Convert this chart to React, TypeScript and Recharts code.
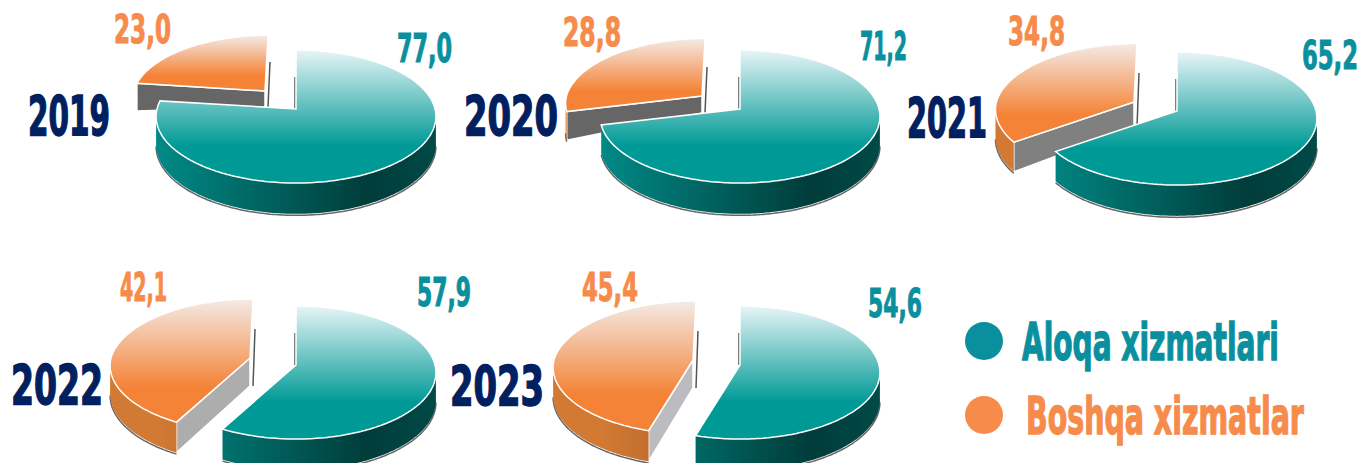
import { PieChart, Pie } from 'recharts';

// values
const YEARS = ['2019', '2020', '2021', '2022', '2023'];
const ALOQA = [77.0, 71.2, 65.2, 57.9, 54.6];
const BOSHQA = [23.0, 28.8, 34.8, 42.1, 45.4];
const LEGEND_NAMES = ['Aloqa xizmatlari', 'Boshqa xizmatlar'];

// layout of each pie: centre, how far the orange slice is pulled out, its size, depth of the cut face at the tip, grey of the cut face
const CENTERS = [[296, 109], [740, 109], [1177, 111], [296, 365], [740, 365]];
const EXPLODE = [[-31, -18], [-38, -13], [-43, -9], [-46, -7], [-47, -5]];
const ORANGE_SCALE = [0.945, 0.975, 0.99, 1, 1];
const TIP_DEPTH = [16, 17, 25, 28, 28];
const CUT_GREY = ['#666666', '#666666', '#808080', '#adadad', '#bcbcc0'];

// label boxes: x, width, baseline
const TEAL_LABELS = [[397, 55, 62], [860, 47, 60], [1302, 56, 69], [417, 54, 306], [868, 54, 317]];
const ORANGE_LABELS = [[114, 57, 43], [563, 58, 46], [1008, 57, 45], [120, 47, 301], [582, 56, 301]];
const YEAR_LABELS = [[28, 82, 135], [464, 94, 135], [907, 80, 137], [11, 92, 404], [450, 94, 405]];

const NAVY = '#012060';
const TEAL_TEXT = '#0a8f9f';
const ORANGE_TEXT = '#f78b4b';
const FONT = '"DejaVu Sans Condensed", "DejaVu Sans", sans-serif';
const RAD = Math.PI / 180;
const PERSP = 0.1127; // back of the disc is further away
const SQUASH = 0.4727;
const DEPTH = 28;
const SILHOUETTE = [96.5, 263.5];

const measureCtx = document.createElement('canvas').getContext('2d')!;

// heavy condensed look: the text is squeezed to the width it has in the picture
function CondText({ x, width, y, cap, fill, children }: any) {
    const fontSize = cap / 0.729;
    measureCtx.font = `700 ${fontSize}px ${FONT}`;
    const natural = measureCtx.measureText(String(children)).width;
    return (
        <text
            transform={`translate(${x} ${y}) scale(${width / natural} 1)`}
            fontFamily={FONT}
            fontWeight={700}
            fontSize={fontSize}
            fill={fill}
            stroke={fill}
            strokeWidth={cap / 28}
        >
            {children}
        </text>
    );
}

// one point on the tilted disc, theta clockwise from the top; lean pushes the back of the disc sideways
function project(cx: number, cy: number, r: number, theta: number, drop = false, lean = 0) {
    const u = Math.sin(theta * RAD);
    const v = Math.cos(theta * RAD);
    const d = 1 + PERSP * v;
    const px = cx + (r * u) / d + lean * Math.max(0, v);
    const py = cy - (r * SQUASH * v) / d;
    return drop ? [px, py + DEPTH * (1 - 0.1 * v)] : [px, py];
}

function arcPoints(cx: number, cy: number, r: number, from: number, to: number, drop = false, lean = 0) {
    const pts: number[][] = [];
    const steps = Math.max(2, Math.ceil(Math.abs(to - from)));
    for (let i = 0; i <= steps; i++) {
        pts.push(project(cx, cy, r, from + ((to - from) * i) / steps, drop, lean));
    }
    return pts;
}

const toPath = (pts: number[][], close = false) =>
    'M' + pts.map((p) => `${p[0].toFixed(1)},${p[1].toFixed(1)}`).join('L') + (close ? 'Z' : '');

const makeSector = (pieIndex: number) => (props: any) => {
    const isOrange = props.payload?.kind === 'boshqa' || props.kind === 'boshqa';
    const [dx, dy] = isOrange ? EXPLODE[pieIndex] : [0, 0];
    const cx = props.cx + dx;
    const cy = props.cy + dy;
    const r = props.outerRadius * (isOrange ? ORANGE_SCALE[pieIndex] : 1);
    const lean = isOrange ? 3 : 0;
    let from = 90 - props.startAngle;
    let to = 90 - props.endAngle;
    if (from < -0.001) {
        from += 360;
        to += 360;
    }
    const id = `${isOrange ? 'o' : 't'}${pieIndex}`;
    const rim = arcPoints(cx, cy, r, from, to, false, lean);
    const top = [[cx, cy], ...rim];

    // outer wall, only the part that faces the viewer
    const a = Math.max(from, SILHOUETTE[0]);
    const b = Math.min(to, SILHOUETTE[1]);
    const hasWall = b > a;
    const wallTop = hasWall ? arcPoints(cx, cy, r, a, b) : [];
    const wallBottom = hasWall ? arcPoints(cx, cy, r, a, b, true) : [];
    const wall = hasWall ? [...wallTop, ...[...wallBottom].reverse()] : [];
    const shadow = wallBottom.map((p) => [p[0], p[1] + 1.5]);

    const tipDepth = TIP_DEPTH[pieIndex];
    const cutRim = project(cx, cy, r, from, false, lean);
    const cutRimLow = project(cx, cy, r, from, true, lean);
    const topEnd = project(cx, cy, r, isOrange ? to : 0, false, lean);

    return (
        <g>
            <defs>
                <linearGradient id={`wall-${id}`} gradientUnits="userSpaceOnUse" x1={props.cx - 139} x2={props.cx + 139} y1={0} y2={0}>
                    {isOrange ? (
                        <>
                            <stop offset="0" stopColor="#d27a33" />
                            <stop offset="0.45" stopColor="#a85c28" />
                        </>
                    ) : (
                        <>
                            <stop offset="0" stopColor="#008a86" />
                            <stop offset="0.76" stopColor="#003c3a" />
                            <stop offset="1" stopColor="#004a48" />
                        </>
                    )}
                </linearGradient>
                <linearGradient id={`top-${id}`} x1="0" x2="0" y1="0" y2="1">
                    <stop offset="0" stopColor={isOrange ? '#f4ebe6' : '#e8f5f8'} />
                    <stop offset="0.72" stopColor={isOrange ? '#f48337' : '#009a96'} />
                </linearGradient>
            </defs>
            {/* thin dark edge at the back of the cut */}
            {isOrange ? (
                <line x1={topEnd[0] + 2} y1={cy - 29} x2={cx + 3} y2={cy + tipDepth} stroke="#555" strokeWidth={1.5} />
            ) : (
                <line x1={cx - 1} y1={cy - 32} x2={cx - 1} y2={cy} stroke="#555" strokeWidth={1.5} />
            )}
            {isOrange && (
                <path
                    d={toPath([[cx, cy], cutRim, cutRimLow, [cx, cy + tipDepth]], true)}
                    fill={CUT_GREY[pieIndex]}
                    stroke="#fff"
                    strokeWidth={1.5}
                />
            )}
            {hasWall && (
                <>
                    <path d={toPath(shadow)} fill="none" stroke="#666" strokeWidth={1.5} />
                    <path d={toPath(wall, true)} fill={`url(#wall-${id})`} />
                </>
            )}
            <path d={toPath(top, true)} fill={`url(#top-${id})`} stroke="#fff" strokeWidth={1.5} />
        </g>
    );
};

const makeLabel = (pieIndex: number) => (props: any) => {
    const isOrange = props.payload?.kind === 'boshqa' || props.kind === 'boshqa';
    const [x, width, y] = isOrange ? ORANGE_LABELS[pieIndex] : TEAL_LABELS[pieIndex];
    return (
        <CondText x={x} width={width} y={y} cap={28} fill={isOrange ? ORANGE_TEXT : TEAL_TEXT}>
            {Number(props.value).toFixed(1).replace('.', ',')}
        </CondText>
    );
};

export default function App() {
    return (
        <div style={{ position: 'absolute', left: 0, top: 0, width: 1361, height: 463, overflow: 'hidden', background: '#fff' }}>
            <PieChart width={1361} height={463} margin={{ top: 0, right: 0, bottom: 0, left: 0 }}>
                {YEARS.map((year, i) => {
                    // orange first so the teal slice paints over it, teal still starts at twelve o'clock
                    const data = [
                        { name: LEGEND_NAMES[1], kind: 'boshqa', value: BOSHQA[i] },
                        { name: LEGEND_NAMES[0], kind: 'aloqa', value: ALOQA[i] },
                    ];
                    const start = 90 + (BOSHQA[i] / (BOSHQA[i] + ALOQA[i])) * 360;
                    const sector = makeSector(i);
                    return (
                        <Pie
                            key={year}
                            data={data}
                            dataKey="value"
                            nameKey="name"
                            cx={CENTERS[i][0]}
                            cy={CENTERS[i][1]}
                            innerRadius={0}
                            outerRadius={139}
                            startAngle={start}
                            endAngle={start - 360}
                            paddingAngle={0}
                            stroke="none"
                            isAnimationActive={false}
                            labelLine={false}
                            label={makeLabel(i)}
                            shape={sector}
                            activeShape={sector}
                            inactiveShape={sector}
                        />
                    );
                })}
                {YEARS.map((year, i) => (
                    <CondText key={year} x={YEAR_LABELS[i][0]} width={YEAR_LABELS[i][1]} y={YEAR_LABELS[i][2]} cap={40} fill={NAVY}>
                        {year}
                    </CondText>
                ))}
                <circle cx={984} cy={341} r={19} fill="#0a8f9f" />
                <circle cx={984} cy={415} r={19} fill="#f78b4b" />
                <CondText x={1022} width={257} y={360} cap={37} fill={TEAL_TEXT}>
                    {LEGEND_NAMES[0]}
                </CondText>
                <CondText x={1026} width={278} y={434} cap={37} fill={ORANGE_TEXT}>
                    {LEGEND_NAMES[1]}
                </CondText>
            </PieChart>
        </div>
    );
}
